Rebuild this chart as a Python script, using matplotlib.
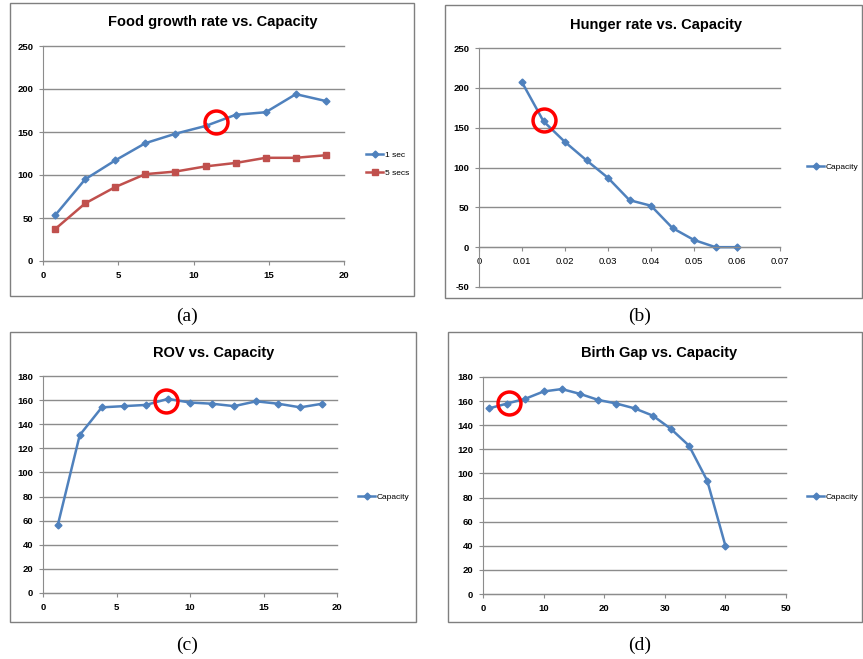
import matplotlib.pyplot as plt
from matplotlib.patches import Rectangle

# (a) food growth rate
food_x = [0.8, 2.8, 4.8, 6.8, 8.8, 10.8, 12.8, 14.8, 16.8, 18.8]
food_1sec = [53, 95, 117, 137, 148, 157, 170, 173, 194, 186]
food_5secs = [37, 67, 86, 101, 104, 110, 114, 120, 120, 123]
food_mark = (11.5, 162)

# (b) hunger rate
hunger_x = [0.01, 0.015, 0.02, 0.025, 0.03, 0.035, 0.04, 0.045, 0.05, 0.055, 0.06]
hunger_y = [207, 158, 132, 109, 87, 59, 52, 24, 9, 0, 0]
hunger_mark = (0.015, 159)

# (c) ROV
rov_x = [1, 2.5, 4, 5.5, 7, 8.5, 10, 11.5, 13, 14.5, 16, 17.5, 19]
rov_y = [56, 131, 154, 155, 156, 161, 158, 157, 155, 159, 157, 154, 157]
rov_mark = (8.4, 159)

# (d) birth gap
birth_x = [1, 4, 7, 10, 13, 16, 19, 22, 25, 28, 31, 34, 37, 40]
birth_y = [154, 158, 162, 168, 170, 166, 161, 158, 154, 148, 137, 123, 94, 40]
birth_mark = (4.3, 158.5)

BLUE = '#4F81BD'
RED = '#C0504D'
GRID = '#8c8c8c'
W, H = 863, 659

plt.rcParams['font.family'] = ['Liberation Sans', 'DejaVu Sans']
plt.rcParams['axes.unicode_minus'] = False

fig = plt.figure(figsize=(W / 100, H / 100), dpi=100)


def px_axes(left, top, right, bottom):
    return fig.add_axes([left / W, 1 - bottom / H, (right - left) / W, (bottom - top) / H])


def px_box(left, top, right, bottom):
    fig.patches.append(Rectangle((left / W, 1 - bottom / H), (right - left) / W, (bottom - top) / H,
                                 transform=fig.transFigure, fill=False, edgecolor='#7f7f7f', lw=1))


def style(ax, xlim, xticks, ylim, yticks, xfmt=None):
    ax.set_xlim(xlim)
    ax.set_ylim(ylim)
    ax.set_xticks(xticks)
    ax.set_yticks(yticks)
    if xfmt:
        ax.set_xticklabels([xfmt(v) for v in xticks])
    ax.grid(axis='y', color=GRID, lw=1)
    for g in ax.get_ygridlines():
        g.set_clip_on(False)
    ax.set_axisbelow(True)
    for s in ['top', 'right']:
        ax.spines[s].set_visible(False)
    for s in ['left', 'bottom']:
        ax.spines[s].set_color(GRID)
    ax.tick_params(length=3, color=GRID, labelsize=6.8, pad=4)
    for lab in ax.get_xticklabels() + ax.get_yticklabels():
        lab.set_fontweight('bold')


def mark(ax, pt):
    ax.plot([pt[0]], [pt[1]], 'o', ms=16.5, mfc='none', mec='red', mew=2.5, zorder=5)


def leg(ax, x, y, gap=0.5):
    ax.legend(loc='center left', bbox_to_anchor=(x / W, 1 - y / H), bbox_transform=fig.transFigure,
              frameon=False, fontsize=6, handlelength=2.0, handletextpad=0.2, labelspacing=gap,
              borderpad=0)


def title(x, y, s):
    fig.text(x / W, 1 - y / H, s, ha='center', va='center', fontsize=10.5, fontweight='bold')


# panel (a)
px_box(10, 3, 414, 296)
ax = px_axes(43, 46, 344, 261)
ax.plot(food_x, food_1sec, color=BLUE, lw=1.8, marker='D', ms=3.5, label='1 sec', clip_on=False)
ax.plot(food_x, food_5secs, color=RED, lw=1.8, marker='s', ms=4.5, label='5 secs', clip_on=False)
mark(ax, food_mark)
style(ax, (0, 20), range(0, 21, 5), (0, 250), range(0, 251, 50))
leg(ax, 362, 164, gap=1.2)
title(213, 22, 'Food growth rate vs. Capacity')
fig.text(187 / W, 1 - 316 / H, '(a)', ha='center', va='center', fontsize=14, family='Liberation Serif')

# panel (b)
px_box(445, 5, 862, 298)
ax = px_axes(479, 48, 780, 287)
ax.plot(hunger_x, hunger_y, color=BLUE, lw=1.8, marker='D', ms=3.5, label='Capacity', clip_on=False)
mark(ax, hunger_mark)
style(ax, (0, 0.07), [i / 100 for i in range(8)], (-50, 250), range(-50, 251, 50),
      xfmt=lambda v: '0' if v == 0 else f'{v:.2f}')
ax.spines['bottom'].set_position(('data', 0))
leg(ax, 803, 167)
title(656, 25, 'Hunger rate vs. Capacity')
fig.text(640 / W, 1 - 316 / H, '(b)', ha='center', va='center', fontsize=14, family='Liberation Serif')

# panel (c)
px_box(10, 332, 416, 622)
ax = px_axes(43, 376, 337, 593)
ax.plot(rov_x, rov_y, color=BLUE, lw=1.8, marker='D', ms=3.5, label='Capacity', clip_on=False)
mark(ax, rov_mark)
style(ax, (0, 20), range(0, 21, 5), (0, 180), range(0, 181, 20))
leg(ax, 354, 497)
title(214, 353, 'ROV vs. Capacity')
fig.text(187 / W, 1 - 645 / H, '(c)', ha='center', va='center', fontsize=14, family='Liberation Serif')

# panel (d)
px_box(448, 332, 862, 622)
ax = px_axes(483, 377, 786, 594)
ax.plot(birth_x, birth_y, color=BLUE, lw=1.8, marker='D', ms=3.5, label='Capacity', clip_on=False)
mark(ax, birth_mark)
style(ax, (0, 50), range(0, 51, 10), (0, 180), range(0, 181, 20))
leg(ax, 803, 497)
title(659, 353, 'Birth Gap vs. Capacity')
fig.text(640 / W, 1 - 645 / H, '(d)', ha='center', va='center', fontsize=14, family='Liberation Serif')

fig.savefig('out.png', dpi=100)
